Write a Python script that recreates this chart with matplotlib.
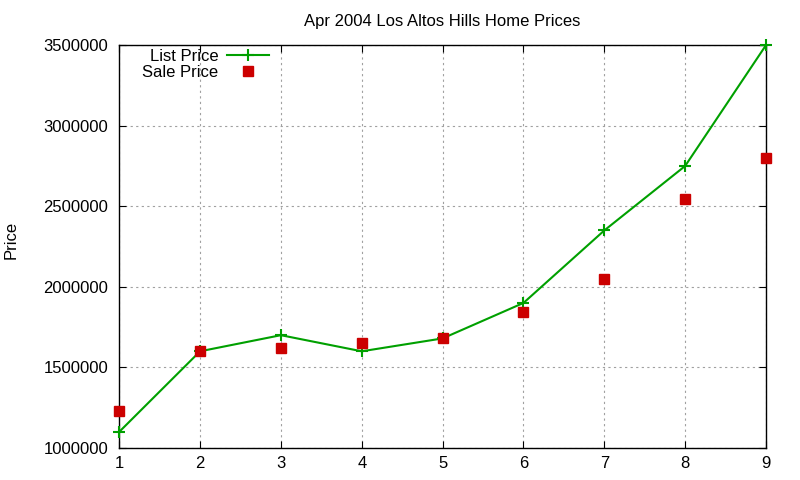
import matplotlib
matplotlib.use("Agg")
import matplotlib.pyplot as plt

plt.rcParams['font.family'] = ['Liberation Sans', 'DejaVu Sans']

months = [1, 2, 3, 4, 5, 6, 7, 8, 9]
list_price = [1100000, 1600000, 1700000, 1600000, 1680000, 1900000, 2350000, 2750000, 3500000]
sale_price = [1230000, 1600000, 1620000, 1650000, 1685000, 1845000, 2050000, 2545000, 2800000]
yticks = [1000000, 1500000, 2000000, 2500000, 3000000, 3500000]

fig, ax = plt.subplots(figsize=(8, 4.8), dpi=100)
fig.subplots_adjust(left=0.149, right=0.9575, top=0.906, bottom=0.0667)

ax.plot(months, list_price, color="#00a000", lw=1.5, marker="+", ms=8, mew=1.5,
        label="List Price", zorder=3, clip_on=False)
ax.plot(months, sale_price, ls="none", color="#cc0000", marker="s", ms=7,
        label="Sale Price", zorder=4, clip_on=False)

ax.set_xlim(1, 9)
ax.set_ylim(1000000, 3500000)
ax.set_xticks(months)
ax.set_yticks(yticks)
ax.set_yticklabels([str(v) for v in yticks])
ax.tick_params(direction="in", labelsize=12, top=True, right=True, length=5)
ax.tick_params(axis="x", pad=6)
ax.tick_params(axis="y", pad=8)
ax.grid(True, ls=(0, (2, 3)), color="#a0a0a0", lw=0.8)
for s in ax.spines.values():
    s.set_linewidth(1)

ax.set_title("Apr 2004 Los Altos Hills Home Prices", fontsize=12, pad=14)
ax.set_ylabel("Price", fontsize=12)
ax.yaxis.set_label_coords(19 / 800, 0.5, transform=fig.transFigure)

leg = ax.legend(loc="upper left", frameon=False, markerfirst=False, fontsize=12,
                handlelength=2.5, handletextpad=0.55, borderpad=0, borderaxespad=0,
                labelspacing=0.08,
                bbox_to_anchor=(142 / 800, 1 - 49 / 480), bbox_transform=fig.transFigure)
for t in leg.get_texts():
    t.set_ha("right")

fig.savefig("out.png")
